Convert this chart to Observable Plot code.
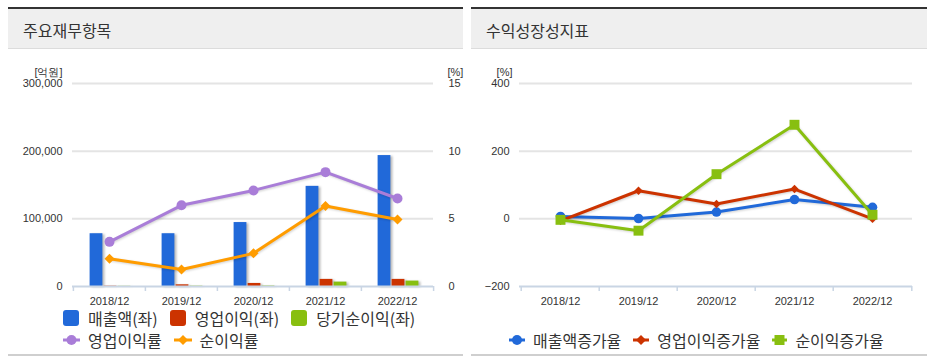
<!DOCTYPE html>
<html><head><meta charset="utf-8">
<script src="https://cdn.jsdelivr.net/npm/d3@7"></script>
<script src="https://cdn.jsdelivr.net/npm/@observablehq/plot@0.6"></script>
<style>
body{margin:0;width:932px;height:361px;background:#fff;position:relative;overflow:hidden;font-family:"Noto Sans CJK KR","Noto Sans",sans-serif;color:#333}
.panel{position:absolute;top:7px;height:349px}
.hdr{position:absolute;left:0;right:0;top:0;height:39px;border-top:2px solid #333;background:#efefef;border-bottom:1px solid #dcdcdc}
.hdr span{position:absolute;left:15px;top:11px;font-size:16px;line-height:20px;color:#333}
.foot{position:absolute;left:0;right:0;bottom:0;height:2px;background:#cfcfcf}
.chart{position:absolute;top:53px;left:0}
.legend{position:absolute;height:14px;font-size:16px;line-height:14px;display:flex;align-items:center;white-space:nowrap;color:#333}
.legend .sq{width:16px;height:16px;border-radius:3px;margin-right:9px}
.legend .item{display:flex;align-items:center;margin-right:12px}
.legend svg{margin-right:8px}
svg g[aria-label="bar"]{filter:drop-shadow(2px 1px 1px rgba(0,0,0,.28))}
svg g[aria-label="line"]{filter:drop-shadow(1px 1px 1px rgba(0,0,0,.18))}
</style></head>
<body>
<div class="panel" id="p1" style="left:8px;width:455px">
  <div class="hdr"><span>주요재무항목</span></div>
  <div class="chart" id="c1"></div>
  <div class="legend" id="l1a" style="left:55px;top:304px"></div>
  <div class="legend" id="l1b" style="left:55px;top:326px"></div>
  <div class="foot"></div>
</div>
<div class="panel" id="p2" style="left:471px;width:456px">
  <div class="hdr"><span>수익성장성지표</span></div>
  <div class="chart" id="c2"></div>
  <div class="legend" id="l2" style="left:38px;top:326px"></div>
  <div class="foot"></div>
</div>
<script>
// ---- data ----
const years = ["2018/12", "2019/12", "2020/12", "2021/12", "2022/12"];
const salesLabel = "매출액(좌)", opLabel = "영업이익(좌)", netLabel = "당기순이익(좌)";
const sales = [78000, 78000, 94500, 148000, 193500];
const opProfit = [500, 2500, 4500, 10500, 10500];
const netProfit = [300, 500, 700, 6500, 8000];
const opMarginLabel = "영업이익률", netMarginLabel = "순이익률";
const opMargin = [3.3, 6.0, 7.1, 8.45, 6.5];
const netMargin = [2.05, 1.25, 2.45, 5.95, 4.95];
const leftTicks = [0, 100000, 200000, 300000];
const pctTicks = [0, 5, 10, 15];
const leftUnit = "[억원]", pctUnit = "[%]";

const salesGrowthLabel = "매출액증가율", opGrowthLabel = "영업이익증가율", netGrowthLabel = "순이익증가율";
const salesGrowth = [7, 1, 20, 57, 34];
const opGrowth = [-6, 83, 44, 88, 0];
const netGrowth = [-3, -35, 132, 278, 12];
const growthTicks = [-200, 0, 200, 400];

// ---- styles ----
const BLUE = "#2169d9", RED = "#cc3300", GREEN = "#88bf10", PURPLE = "#a97dd8", ORANGE = "#ff9c00";
const GRID = "#e4e4e4", AXIS = "#c9d5e4";
const FONT = "'Liberation Sans', Arial, sans-serif";

// ---- left chart ----
const W1 = 455, H1 = 250, ML1 = 64, MR1 = 30;
const bw1 = (W1 - ML1 - MR1) / years.length;
const barW = 13, inset1 = (bw1 - barW) / 2;
const PCT = leftTicks[leftTicks.length - 1] / pctTicks[pctTicks.length - 1];
const rows = years.map((year, i) => ({year, sales: sales[i], op: opProfit[i], net: netProfit[i], opm: opMargin[i] * PCT, nm: netMargin[i] * PCT}));

const c1 = Plot.plot({
  width: W1, height: H1, marginLeft: ML1, marginRight: MR1, marginTop: 23, marginBottom: 24,
  style: {fontFamily: FONT, fontSize: "11px", color: "#333", background: "transparent", overflow: "visible"},
  x: {type: "band", domain: years, padding: 0, axis: null},
  y: {domain: [leftTicks[0], leftTicks[leftTicks.length - 1]], axis: null},
  marks: [
    Plot.gridY(leftTicks.slice(1), {stroke: GRID, strokeOpacity: 1, strokeWidth: 2}),
    Plot.axisY(leftTicks, {anchor: "left", tickSize: 0, tickPadding: 10, tickFormat: d3.format(","), label: null}),
    Plot.axisY(pctTicks.map(d => d * PCT), {anchor: "right", tickSize: 0, tickPadding: 15, tickFormat: d => d / PCT, label: null}),
    Plot.axisX(years, {tickSize: 0, tickPadding: 11, label: null}),
    Plot.barY(rows, {x: "year", y: "sales", fill: BLUE, insetLeft: inset1, insetRight: inset1, dx: -13}),
    Plot.barY(rows, {x: "year", y: "op", fill: RED, insetLeft: inset1, insetRight: inset1, dx: 1}),
    Plot.barY(rows, {x: "year", y: "net", fill: GREEN, insetLeft: inset1, insetRight: inset1, dx: 15}),
    Plot.ruleY([0], {stroke: AXIS, strokeWidth: 2}),
    Plot.ruleX(years, {x: d => d, y1: 0, y2: 0, insetBottom: -5, dx: -bw1 / 2, stroke: AXIS, strokeWidth: 1.5}),
    Plot.ruleX(years.slice(-1), {x: d => d, y1: 0, y2: 0, insetBottom: -5, dx: bw1 / 2, stroke: AXIS, strokeWidth: 1.5}),
    Plot.line(rows, {x: "year", y: "opm", stroke: PURPLE, strokeWidth: 3}),
    Plot.dot(rows, {x: "year", y: "opm", fill: PURPLE, r: 5, symbol: "circle"}),
    Plot.line(rows, {x: "year", y: "nm", stroke: ORANGE, strokeWidth: 3}),
    Plot.dot(rows, {x: "year", y: "nm", fill: ORANGE, r: 4.5, symbol: "diamond2"}),
    Plot.text([leftUnit], {text: d => d, frameAnchor: "top-left", dx: -10, dy: -15, textAnchor: "end", fill: "#333"}),
    Plot.text([pctUnit], {text: d => d, frameAnchor: "top-right", dx: 14, dy: -15, textAnchor: "start", fill: "#333"})
  ]
});
document.getElementById("c1").append(c1);

// ---- right chart ----
const W2 = 456, H2 = 250, ML2 = 48, MR2 = 15;
const bw2 = (W2 - ML2 - MR2) / years.length;
const grows = years.map((year, i) => ({year, s: salesGrowth[i], o: opGrowth[i], n: netGrowth[i]}));

const c2 = Plot.plot({
  width: W2, height: H2, marginLeft: ML2, marginRight: MR2, marginTop: 23, marginBottom: 24,
  style: {fontFamily: FONT, fontSize: "11px", color: "#333", background: "transparent", overflow: "visible"},
  x: {type: "band", domain: years, padding: 0, axis: null},
  y: {domain: [growthTicks[0], growthTicks[growthTicks.length - 1]], axis: null},
  marks: [
    Plot.gridY(growthTicks.slice(1), {stroke: GRID, strokeOpacity: 1, strokeWidth: 2}),
    Plot.axisY(growthTicks, {anchor: "left", tickSize: 0, tickPadding: 10, label: null}),
    Plot.axisX(years, {tickSize: 0, tickPadding: 11, label: null}),
    Plot.ruleY(growthTicks.slice(0, 1), {stroke: AXIS, strokeWidth: 2}),
    Plot.ruleX(years, {x: d => d, y1: growthTicks[0], y2: growthTicks[0], insetBottom: -5, dx: -bw2 / 2, stroke: AXIS, strokeWidth: 1.5}),
    Plot.ruleX(years.slice(-1), {x: d => d, y1: growthTicks[0], y2: growthTicks[0], insetBottom: -5, dx: bw2 / 2, stroke: AXIS, strokeWidth: 1.5}),
    Plot.line(grows, {x: "year", y: "s", stroke: BLUE, strokeWidth: 3}),
    Plot.dot(grows, {x: "year", y: "s", fill: BLUE, r: 4.8, symbol: "circle"}),
    Plot.line(grows, {x: "year", y: "o", stroke: RED, strokeWidth: 3}),
    Plot.dot(grows, {x: "year", y: "o", fill: RED, r: 3.8, symbol: "diamond2"}),
    Plot.line(grows, {x: "year", y: "n", stroke: GREEN, strokeWidth: 3}),
    Plot.dot(grows, {x: "year", y: "n", fill: GREEN, r: 5.6, symbol: "square"}),
    Plot.text([pctUnit], {text: d => d, frameAnchor: "top-left", dx: -7, dy: -15, textAnchor: "end", fill: "#333"})
  ]
});
document.getElementById("c2").append(c2);

// ---- legends ----
function sqItem(color, label) {
  return `<div class="item"><div class="sq" style="background:${color}"></div><span>${label}</span></div>`;
}
function lineItem(color, shape, label, w) {
  w = w || 17;
  const c = w / 2;
  let m;
  if (shape === "circle") m = `<circle cx="${c}" cy="6" r="5" fill="${color}"/>`;
  else if (shape === "diamond") m = `<path d="M${c} 1 L${c + 5} 6 L${c} 11 L${c - 5} 6Z" fill="${color}"/>`;
  else m = `<rect x="${c - 5}" y="1" width="10" height="10" fill="${color}"/>`;
  return `<div class="item"><svg width="${w}" height="12"><line x1="0" y1="6" x2="${w}" y2="6" stroke="${color}" stroke-width="3"/>${m}</svg><span>${label}</span></div>`;
}
document.getElementById("l1a").innerHTML = sqItem(BLUE, salesLabel) + sqItem(RED, opLabel) + sqItem(GREEN, netLabel);
document.getElementById("l1b").innerHTML = lineItem(PURPLE, "circle", opMarginLabel, 17) + lineItem(ORANGE, "diamond", netMarginLabel, 18);
document.getElementById("l2").innerHTML = lineItem(BLUE, "circle", salesGrowthLabel, 16) + lineItem(RED, "diamond", opGrowthLabel, 16) + lineItem(GREEN, "square", netGrowthLabel, 15);
</script>
</body></html>
